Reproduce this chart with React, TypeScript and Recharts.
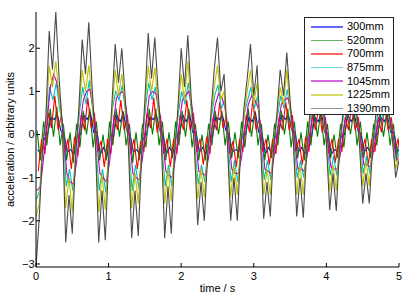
import { LineChart, Line, XAxis, YAxis } from "recharts";

const SAMPLE_RATE = 22;

const s300 = [
  -0.35, -0.45, -0.1, 0.0, 0.4, 0.35, 0.45, 0.1, 0.0, -0.4,
  -0.35, -0.45, -0.05, 0.0, 0.45, 0.35, 0.5, 0.05, 0.05, -0.45,
  -0.3, -0.5, -0.05, -0.05, 0.45, 0.3, 0.5, 0.1, 0.0, -0.4,
  -0.35, -0.45, -0.1, 0.0, 0.4, 0.35, 0.45, 0.1, 0.0, -0.45,
  -0.3, -0.45, -0.05, 0.0, 0.45, 0.3, 0.5, 0.05, 0.05, -0.4,
  -0.3, -0.45, -0.1, -0.05, 0.4, 0.35, 0.45, 0.1, 0.0, -0.4,
  -0.35, -0.4, -0.05, 0.0, 0.4, 0.3, 0.5, 0.05, 0.0, -0.45,
  -0.3, -0.45, -0.05, 0.0, 0.45, 0.35, 0.45, 0.1, 0.05, -0.4,
  -0.3, -0.45, -0.1, -0.05, 0.4, 0.3, 0.5, 0.05, 0.0, -0.45,
  -0.35, -0.4, -0.05, 0.0, 0.45, 0.3, 0.45, 0.1, 0.0, -0.4,
  -0.3, -0.45, -0.05, 0.0, 0.4, 0.3, 0.45, 0.05, 0.05, -0.4,
  -0.3,
];

const s520 = [
  0.1, -0.6, 0.3, -0.25, 0.6, -0.05, 0.65, -0.25, 0.25, -0.6,
  0.05, -0.65, 0.25, -0.3, 0.55, 0.0, 0.6, -0.3, 0.3, -0.6,
  0.0, -0.6, 0.3, -0.25, 0.6, -0.05, 0.55, -0.25, 0.25, -0.65,
  0.05, -0.6, 0.25, -0.3, 0.6, 0.0, 0.6, -0.25, 0.3, -0.6,
  0.05, -0.55, 0.3, -0.25, 0.55, -0.05, 0.6, -0.3, 0.25, -0.6,
  0.0, -0.6, 0.25, -0.25, 0.55, 0.0, 0.55, -0.25, 0.3, -0.55,
  0.05, -0.55, 0.3, -0.3, 0.6, -0.05, 0.55, -0.25, 0.25, -0.6,
  0.0, -0.55, 0.25, -0.25, 0.55, 0.0, 0.6, -0.3, 0.3, -0.55,
  0.05, -0.6, 0.3, -0.25, 0.55, -0.05, 0.55, -0.25, 0.25, -0.55,
  0.0, -0.55, 0.25, -0.3, 0.5, 0.0, 0.55, -0.25, 0.3, -0.55,
  0.05, -0.55, 0.25, -0.25, 0.5, -0.05, 0.5, -0.25, 0.25, -0.5,
  0.05,
];

const s700 = [
  -0.85, -0.1, -0.45, 0.5, 0.15, 0.9, 0.1, 0.45, -0.45, -0.1,
  -0.8, -0.05, -0.5, 0.45, 0.1, 0.85, 0.15, 0.5, -0.4, -0.15,
  -0.75, -0.1, -0.45, 0.45, 0.1, 0.8, 0.1, 0.45, -0.45, -0.1,
  -0.8, -0.15, -0.4, 0.5, 0.15, 0.85, 0.05, 0.45, -0.45, -0.1,
  -0.75, -0.1, -0.45, 0.45, 0.1, 0.8, 0.1, 0.5, -0.4, -0.1,
  -0.7, -0.05, -0.45, 0.4, 0.1, 0.75, 0.15, 0.45, -0.45, -0.15,
  -0.75, -0.1, -0.4, 0.45, 0.05, 0.8, 0.1, 0.4, -0.4, -0.1,
  -0.7, -0.1, -0.45, 0.4, 0.1, 0.75, 0.1, 0.45, -0.4, -0.1,
  -0.7, -0.05, -0.4, 0.45, 0.1, 0.7, 0.05, 0.4, -0.45, -0.1,
  -0.65, -0.1, -0.4, 0.4, 0.1, 0.7, 0.1, 0.4, -0.4, -0.1,
  -0.7, -0.1, -0.4, 0.4, 0.05, 0.65, 0.1, 0.4, -0.4, -0.1,
  -0.6,
];

const s875 = [
  -1.5, -1.3, -0.1, 0.3, 1.1, 0.8, 1.2, 0.6, 0.2, -1.2,
  -0.8, -1.3, -0.4, 0.5, 1.1, 0.7, 1.25, 0.6, -0.3, -1.3,
  -0.8, -1.35, -0.4, 0.6, 1.0, 0.8, 1.15, 0.5, -0.3, -1.3,
  -0.7, -1.25, -0.3, 0.6, 1.2, 0.8, 1.1, 0.5, -0.3, -1.2,
  -0.7, -1.2, -0.3, 0.5, 1.0, 0.7, 1.2, 0.5, -0.3, -1.15,
  -0.7, -1.1, -0.3, 0.4, 0.9, 1.15, 0.6, 0.8, -0.2, -1.1,
  -0.6, -1.1, -0.3, 0.5, 0.8, 1.1, 0.6, 0.9, -0.2, -1.05,
  -0.6, -1.05, -0.2, 0.4, 0.9, 0.6, 1.05, 0.5, -0.2, -1.0,
  -0.6, -1.0, -0.3, 0.4, 1.0, 0.6, 0.9, 0.4, -0.2, -0.95,
  -0.5, -0.95, -0.2, 0.4, 0.8, 0.5, 0.95, 0.4, -0.1, -0.9,
  -0.5, -0.9, -0.2, 0.3, 0.7, 0.4, 0.85, 0.3, -0.1, -0.6,
  -0.4,
];

const s1045 = [
  -1.3, -1.2, -0.5, 0.3, 1.1, 1.4, 1.2, 0.7, 0.0, -0.9,
  -1.1, -1.15, -0.6, 0.2, 0.8, 1.0, 1.05, 0.6, -0.1, -0.9,
  -1.0, -1.1, -0.6, 0.2, 0.85, 0.95, 1.0, 0.6, -0.1, -0.9,
  -1.0, -1.05, -0.5, 0.3, 0.9, 1.0, 0.95, 0.6, -0.1, -0.85,
  -0.95, -1.0, -0.5, 0.2, 0.8, 0.9, 1.0, 0.6, -0.1, -0.85,
  -0.9, -0.95, -0.5, 0.2, 0.7, 0.95, 0.85, 0.6, -0.1, -0.8,
  -0.9, -0.9, -0.5, 0.2, 0.7, 0.9, 0.8, 0.6, 0.0, -0.8,
  -0.85, -0.9, -0.4, 0.2, 0.7, 0.8, 0.85, 0.5, -0.1, -0.8,
  -0.8, -0.85, -0.4, 0.2, 0.75, 0.8, 0.7, 0.5, -0.1, -0.75,
  -0.8, -0.8, -0.4, 0.2, 0.6, 0.7, 0.75, 0.4, -0.1, -0.7,
  -0.7, -0.75, -0.35, 0.2, 0.55, 0.65, 0.65, 0.35, -0.1, -0.6,
  -0.5,
];

const s1225 = [
  -1.9, -1.6, -0.2, 0.3, 1.6, 1.1, 1.7, 0.9, 0.1, -1.7,
  -1.0, -1.8, -0.4, 0.5, 1.5, 1.0, 1.6, 0.8, -0.2, -1.8,
  -0.9, -1.75, -0.4, 0.5, 1.5, 0.9, 1.4, 0.7, -0.2, -1.7,
  -0.9, -1.6, -0.4, 0.6, 1.6, 1.0, 1.55, 0.7, -0.2, -1.6,
  -0.8, -1.55, -0.3, 0.5, 1.4, 0.8, 1.7, 0.7, -0.2, -1.5,
  -0.8, -1.45, -0.4, 0.4, 1.1, 1.6, 0.8, 1.0, -0.2, -1.45,
  -0.7, -1.4, -0.3, 0.4, 1.0, 1.5, 0.7, 1.2, -0.1, -1.4,
  -0.8, -1.4, -0.2, 0.4, 1.1, 0.7, 1.5, 0.6, -0.2, -1.4,
  -0.7, -1.4, -0.3, 0.4, 1.3, 0.7, 1.1, 0.5, -0.2, -1.3,
  -0.7, -1.3, -0.2, 0.4, 1.0, 0.6, 1.3, 0.5, -0.1, -1.2,
  -0.6, -1.2, -0.2, 0.4, 0.9, 0.5, 1.1, 0.4, -0.1, -0.8,
  -0.5,
];

const s1390 = [
  -3.07, -1.9, -0.3, 0.4, 2.4, 1.5, 2.84, 1.3, 0.2, -2.5,
  -1.4, -2.3, -0.5, 0.6, 2.2, 1.4, 2.6, 1.1, -0.2, -2.5,
  -1.3, -2.45, -0.6, 0.7, 2.1, 1.2, 2.0, 0.9, -0.3, -2.4,
  -1.3, -2.35, -0.5, 0.8, 2.35, 1.3, 2.25, 1.0, -0.2, -2.4,
  -1.2, -2.3, -0.4, 0.6, 2.0, 1.1, 2.3, 0.9, -0.3, -2.1,
  -1.1, -2.0, -0.5, 0.5, 1.5, 2.25, 1.0, 1.4, -0.2, -2.0,
  -1.0, -2.0, -0.4, 0.6, 1.3, 2.1, 0.9, 1.6, -0.1, -1.95,
  -1.1, -1.9, -0.3, 0.5, 1.5, 0.9, 1.9, 0.8, -0.2, -1.9,
  -1.0, -1.93, -0.4, 0.5, 1.7, 0.9, 1.5, 0.7, -0.2, -1.75,
  -0.9, -1.77, -0.3, 0.5, 1.4, 0.8, 1.75, 0.6, -0.2, -1.6,
  -0.9, -1.6, -0.3, 0.5, 1.1, 0.6, 1.4, 0.5, -0.1, -1.0,
  -0.6,
];

// sensors were not sampled at the same instant: offset in samples
const SERIES = [
  { key: "s300", name: "300mm", color: "#0000ff", values: s300, offset: 0.5 },
  { key: "s520", name: "520mm", color: "#008000", values: s520, offset: 0.3 },
  { key: "s700", name: "700mm", color: "#ff0000", values: s700, offset: 0.7 },
  { key: "s875", name: "875mm", color: "#00bfbf", values: s875, offset: 0.15 },
  { key: "s1045", name: "1045mm", color: "#bf00bf", values: s1045, offset: 0.35 },
  { key: "s1225", name: "1225mm", color: "#bfbf00", values: s1225, offset: 0 },
  { key: "s1390", name: "1390mm", color: "#4a4a4a", values: s1390, offset: 0 },
];

const xTicks = [0, 1, 2, 3, 4, 5];
const yTicks = [-3, -2, -1, 0, 1, 2];

const seriesData = SERIES.map((s) =>
  s.values.map((v, i) => ({ t: (i + s.offset) / SAMPLE_RATE, v }))
);

const allValues = SERIES.flatMap((s) => s.values);
const yMin = Math.min(...allValues);
const yMax = Math.max(...allValues);

const fmt = (v: number) => (v < 0 ? "\u2212" + Math.abs(v) : String(v));
const tickStyle = { fill: "#000", fontSize: 11 };
const FONT = '"Liberation Sans", Arial, Helvetica, sans-serif';

export default function App() {
  return (
    <div style={{ position: "absolute", left: 0, top: 0, width: 407, height: 298, background: "#fff", fontFamily: FONT }}>
      <LineChart width={407} height={298} margin={{ top: 12, right: 8, bottom: 0, left: 0 }} style={{ fontFamily: FONT }}>
        <XAxis dataKey="t" type="number" domain={[0, 5]} ticks={xTicks} height={31} tickSize={-4} tickMargin={9}
          tick={tickStyle} stroke="#000" interval={0} allowDataOverflow
          label={{ value: "time / s", position: "insideBottom", offset: 6, fill: "#000", fontSize: 11 }} />
        <XAxis xAxisId="top" orientation="top" type="number" domain={[0, 5]} ticks={xTicks} height={0} tickSize={-4}
          tick={false} stroke="#000" />
        <YAxis type="number" domain={[yMin, yMax]} ticks={yTicks} width={36} tickSize={-4} tickMargin={5.5}
          tick={tickStyle} tickFormatter={fmt} stroke="#000" interval={0} allowDataOverflow
          label={{ value: "acceleration / arbitrary units", angle: -90, position: "inside", dx: -8, fill: "#000", fontSize: 11 }} />
        <YAxis yAxisId="right" orientation="right" type="number" domain={[yMin, yMax]} ticks={yTicks} width={0} tickSize={-4}
          tick={false} stroke="#000" />
        {SERIES.map((s, k) => (
          <Line key={s.key} data={seriesData[k]} dataKey="v" name={s.name} type="linear" stroke={s.color} strokeWidth={1.1}
            dot={false} activeDot={false} isAnimationActive={false} />
        ))}
      </LineChart>
      <div style={{ position: "absolute", left: 304, top: 17, width: 90, height: 98, border: "1px solid #222", background: "#fff", boxSizing: "border-box", paddingTop: 2 }}>
        {SERIES.map((s) => (
          <div key={s.key} style={{ display: "flex", alignItems: "center", height: 13.6, fontSize: 11, color: "#000" }}>
            <div style={{ marginLeft: 6, width: 32, height: 1.5, background: s.color, opacity: 0.6 }} />
            <span style={{ marginLeft: 4, lineHeight: "13px" }}>{s.name}</span>
          </div>
        ))}
      </div>
    </div>
  );
}
